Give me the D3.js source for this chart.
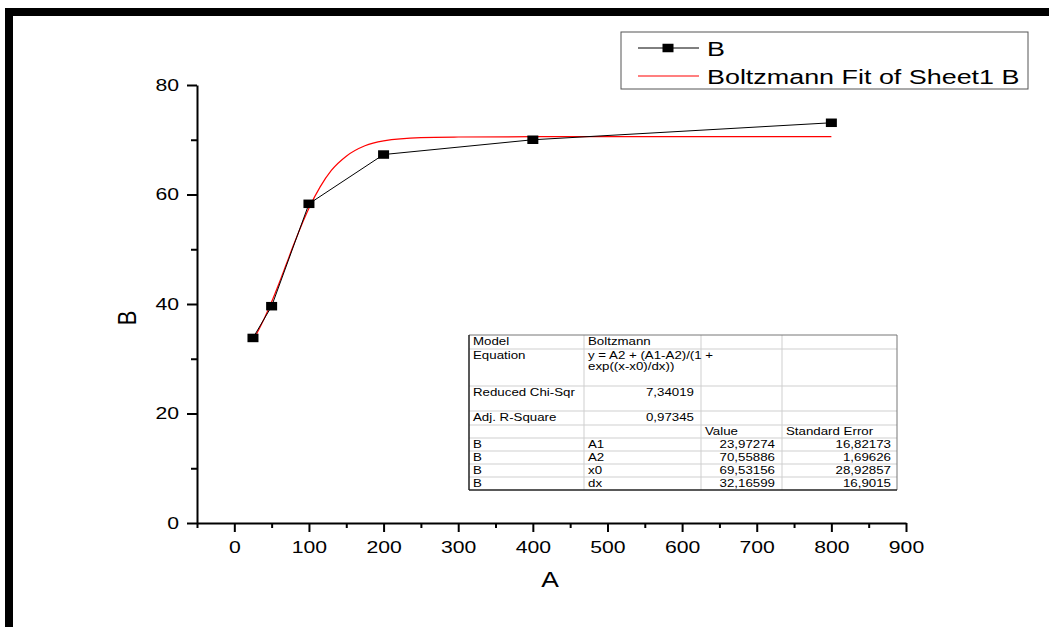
<!DOCTYPE html>
<html>
<head>
<meta charset="utf-8">
<script src="https://cdn.jsdelivr.net/npm/d3@7"></script>
<style>
  html, body { margin: 0; padding: 0; background: #fff; }
  svg { display: block; font-family: "Liberation Sans", Arial, sans-serif; }
</style>
</head>
<body>
<div id="chart"></div>
<script>
// measured data (A vs B)
const seriesA = [25, 50, 100, 200, 400, 800];
const seriesB = [33.8, 39.6, 58.3, 67.3, 70.0, 73.1];

// Boltzmann fit curve
const fitA = [25, 40, 50, 60, 70, 80, 90, 100, 115, 130, 150, 175, 200, 250, 300, 400, 600, 800];
const fitB = [33.3, 37.3, 40.4, 43.8, 47.4, 51.0, 54.4, 57.5, 61.4, 64.4, 67.0, 68.9, 69.8, 70.4, 70.5, 70.56, 70.56, 70.56];

const xMajorTicks = [0, 100, 200, 300, 400, 500, 600, 700, 800, 900];
const xMinorTicks = [-50, 50, 150, 250, 350, 450, 550, 650, 750, 850];
const yMajorTicks = [0, 20, 40, 60, 80];
const yMinorTicks = [10, 30, 50, 70];

const legendLabels = ['B', 'Boltzmann Fit of Sheet1 B'];

// fit report table
const reportLabels = ['Model', 'Equation', 'Reduced Chi-Sqr', 'Adj. R-Square'];
const reportValues = ['Boltzmann', 'y = A2 + (A1-A2)/(1 +|exp((x-x0)/dx))', '7,34019', '0,97345'];
const tableHeader = ['', '', 'Value', 'Standard Error'];
const paramNames = ['A1', 'A2', 'x0', 'dx'];
const paramValues = ['23,97274', '70,55886', '69,53156', '32,16599'];
const paramErrors = ['16,82173', '1,69626', '28,92857', '16,9015'];

const width = 1049;
const height = 627;

const svg = d3.select('#chart')
  .append('svg')
  .attr('width', width)
  .attr('height', height);

// the exported picture is stretched sideways, so text is too
function addText(g, x, y, str, size, sx, anchor, extra) {
  return g.append('text')
    .attr('transform', `translate(${x},${y}) scale(${sx},1)` + (extra || ''))
    .attr('text-anchor', anchor || 'start')
    .style('font-size', size + 'px')
    .attr('fill', '#000')
    .text(str);
}

// black frame on top and left
svg.append('rect').attr('x', 5).attr('y', 8).attr('width', width - 5).attr('height', 8).attr('fill', '#000');
svg.append('rect').attr('x', 5).attr('y', 8).attr('width', 8).attr('height', height - 8).attr('fill', '#000');

const x = d3.scaleLinear().domain([-50, 900]).range([197, 906]);
const y = d3.scaleLinear().domain([0, 80]).range([523, 85]);

// x axis
const tickSx = 1.3;
const xAxisG = svg.append('g')
  .attr('transform', `translate(0,${y(0)})`)
  .call(d3.axisBottom(x).tickValues(xMajorTicks).tickSize(9).tickSizeOuter(0).tickPadding(9));
svg.append('g')
  .attr('transform', `translate(0,${y(0)})`)
  .call(d3.axisBottom(x).tickValues(xMinorTicks).tickSize(5).tickSizeOuter(0).tickFormat(''))
  .select('.domain').remove();

// y axis
const yAxisG = svg.append('g')
  .attr('transform', `translate(${x(-50)},0)`)
  .call(d3.axisLeft(y).tickValues(yMajorTicks).tickSize(10).tickSizeOuter(0).tickPadding(8));
svg.append('g')
  .attr('transform', `translate(${x(-50)},0)`)
  .call(d3.axisLeft(y).tickValues(yMinorTicks).tickSize(6).tickSizeOuter(0).tickFormat(''))
  .select('.domain').remove();

svg.selectAll('.domain').attr('stroke', '#000').attr('stroke-width', 2);
svg.selectAll('.tick line').attr('stroke', '#000').attr('stroke-width', 2);

xAxisG.selectAll('.tick text')
  .attr('transform', `scale(${tickSx},1)`)
  .style('font-size', '16.3px')
  .style('font-family', '"Liberation Sans", Arial, sans-serif')
  .attr('fill', '#000');
yAxisG.selectAll('.tick text')
  .attr('x', -18 / tickSx)
  .attr('transform', `scale(${tickSx},1)`)
  .style('font-size', '16.3px')
  .style('font-family', '"Liberation Sans", Arial, sans-serif')
  .attr('fill', '#000');

// axis titles
addText(svg, 550, 587, 'A', 22, 1.2, 'middle');
addText(svg, 136, 318, 'B', 22, 1.2, 'middle', ' rotate(-90)');

// fit curve
const fitLine = d3.line()
  .x((d, i) => x(fitA[i]))
  .y(d => y(d))
  .curve(d3.curveMonotoneX);
svg.append('path')
  .datum(fitB)
  .attr('d', fitLine)
  .attr('fill', 'none')
  .attr('stroke', '#ff0000')
  .attr('stroke-width', 1.2);

// data line + markers
const dataLine = d3.line()
  .x((d, i) => x(seriesA[i]))
  .y(d => y(d));
svg.append('path')
  .datum(seriesB)
  .attr('d', dataLine)
  .attr('fill', 'none')
  .attr('stroke', '#000')
  .attr('stroke-width', 1);

const mw = 11, mh = 8.5;
svg.selectAll('.marker')
  .data(seriesB)
  .enter()
  .append('rect')
  .attr('class', 'marker')
  .attr('x', (d, i) => x(seriesA[i]) - mw / 2)
  .attr('y', d => y(d) - mh / 2)
  .attr('width', mw)
  .attr('height', mh)
  .attr('fill', '#000');

// legend
const legend = svg.append('g');
legend.append('rect')
  .attr('x', 621).attr('y', 32).attr('width', 407).attr('height', 57)
  .attr('fill', '#fff').attr('stroke', '#555').attr('stroke-width', 1);
legend.append('line').attr('x1', 638).attr('x2', 699).attr('y1', 48).attr('y2', 48)
  .attr('stroke', '#000').attr('stroke-width', 1);
legend.append('rect').attr('x', 668 - mw / 2).attr('y', 48 - mh / 2).attr('width', mw).attr('height', mh).attr('fill', '#000');
legend.append('line').attr('x1', 638).attr('x2', 699).attr('y1', 76).attr('y2', 76)
  .attr('stroke', '#ff0000').attr('stroke-width', 1.2);
legendLabels.forEach((label, i) => {
  addText(legend, 707, 55.5 + i * 28, label, 19.5, 1.38, 'start');
});

// fit report table
const table = svg.append('g');
const colEdges = [469, 584, 701, 782, 897];
const rowEdges = [335, 349, 386, 411, 425, 438, 451, 464, 477, 490];
const tSx = 1.33, tSize = 10;

table.append('rect')
  .attr('x', colEdges[0]).attr('y', rowEdges[0])
  .attr('width', colEdges[4] - colEdges[0]).attr('height', rowEdges[9] - rowEdges[0])
  .attr('fill', '#fff');

rowEdges.slice(1, -1).forEach(ry => {
  table.append('line').attr('x1', colEdges[0]).attr('x2', colEdges[4]).attr('y1', ry).attr('y2', ry)
    .attr('stroke', '#cfcfcf').attr('stroke-width', 1);
});
colEdges.slice(1, -1).forEach(cx => {
  table.append('line').attr('x1', cx).attr('x2', cx).attr('y1', rowEdges[0]).attr('y2', rowEdges[9])
    .attr('stroke', '#cfcfcf').attr('stroke-width', 1);
});
// outer border
table.append('line').attr('x1', colEdges[0]).attr('x2', colEdges[4]).attr('y1', rowEdges[0]).attr('y2', rowEdges[0])
  .attr('stroke', '#777').attr('stroke-width', 1);
table.append('line').attr('x1', colEdges[4]).attr('x2', colEdges[4]).attr('y1', rowEdges[0]).attr('y2', rowEdges[9])
  .attr('stroke', '#777').attr('stroke-width', 1);
table.append('line').attr('x1', colEdges[0]).attr('x2', colEdges[0]).attr('y1', rowEdges[0]).attr('y2', rowEdges[9])
  .attr('stroke', '#222').attr('stroke-width', 1.5);
table.append('line').attr('x1', colEdges[0]).attr('x2', colEdges[4]).attr('y1', rowEdges[9]).attr('y2', rowEdges[9])
  .attr('stroke', '#222').attr('stroke-width', 1.5);

const pad = 4, rpad = 7, base = 10;
reportLabels.forEach((label, i) => {
  const top = rowEdges[i];
  addText(table, colEdges[0] + pad, top + base, label, tSize, tSx, 'start');
  const val = reportValues[i];
  if (i < 2) {
    val.split('|').forEach((part, k) => {
      addText(table, colEdges[1] + pad, top + base + k * 11, part, tSize, tSx, 'start');
    });
  } else {
    addText(table, colEdges[2] - rpad, top + base, val, tSize, tSx, 'end');
  }
});
tableHeader.forEach((h, j) => {
  if (h) addText(table, colEdges[j] + pad, rowEdges[4] + base, h, tSize, tSx, 'start');
});
paramNames.forEach((p, i) => {
  const top = rowEdges[5 + i];
  addText(table, colEdges[0] + pad, top + base, 'B', tSize, tSx, 'start');
  addText(table, colEdges[1] + pad, top + base, p, tSize, tSx, 'start');
  addText(table, colEdges[3] - rpad, top + base, paramValues[i], tSize, tSx, 'end');
  addText(table, colEdges[4] - rpad + 1, top + base, paramErrors[i], tSize, tSx, 'end');
});
</script>
</body>
</html>
